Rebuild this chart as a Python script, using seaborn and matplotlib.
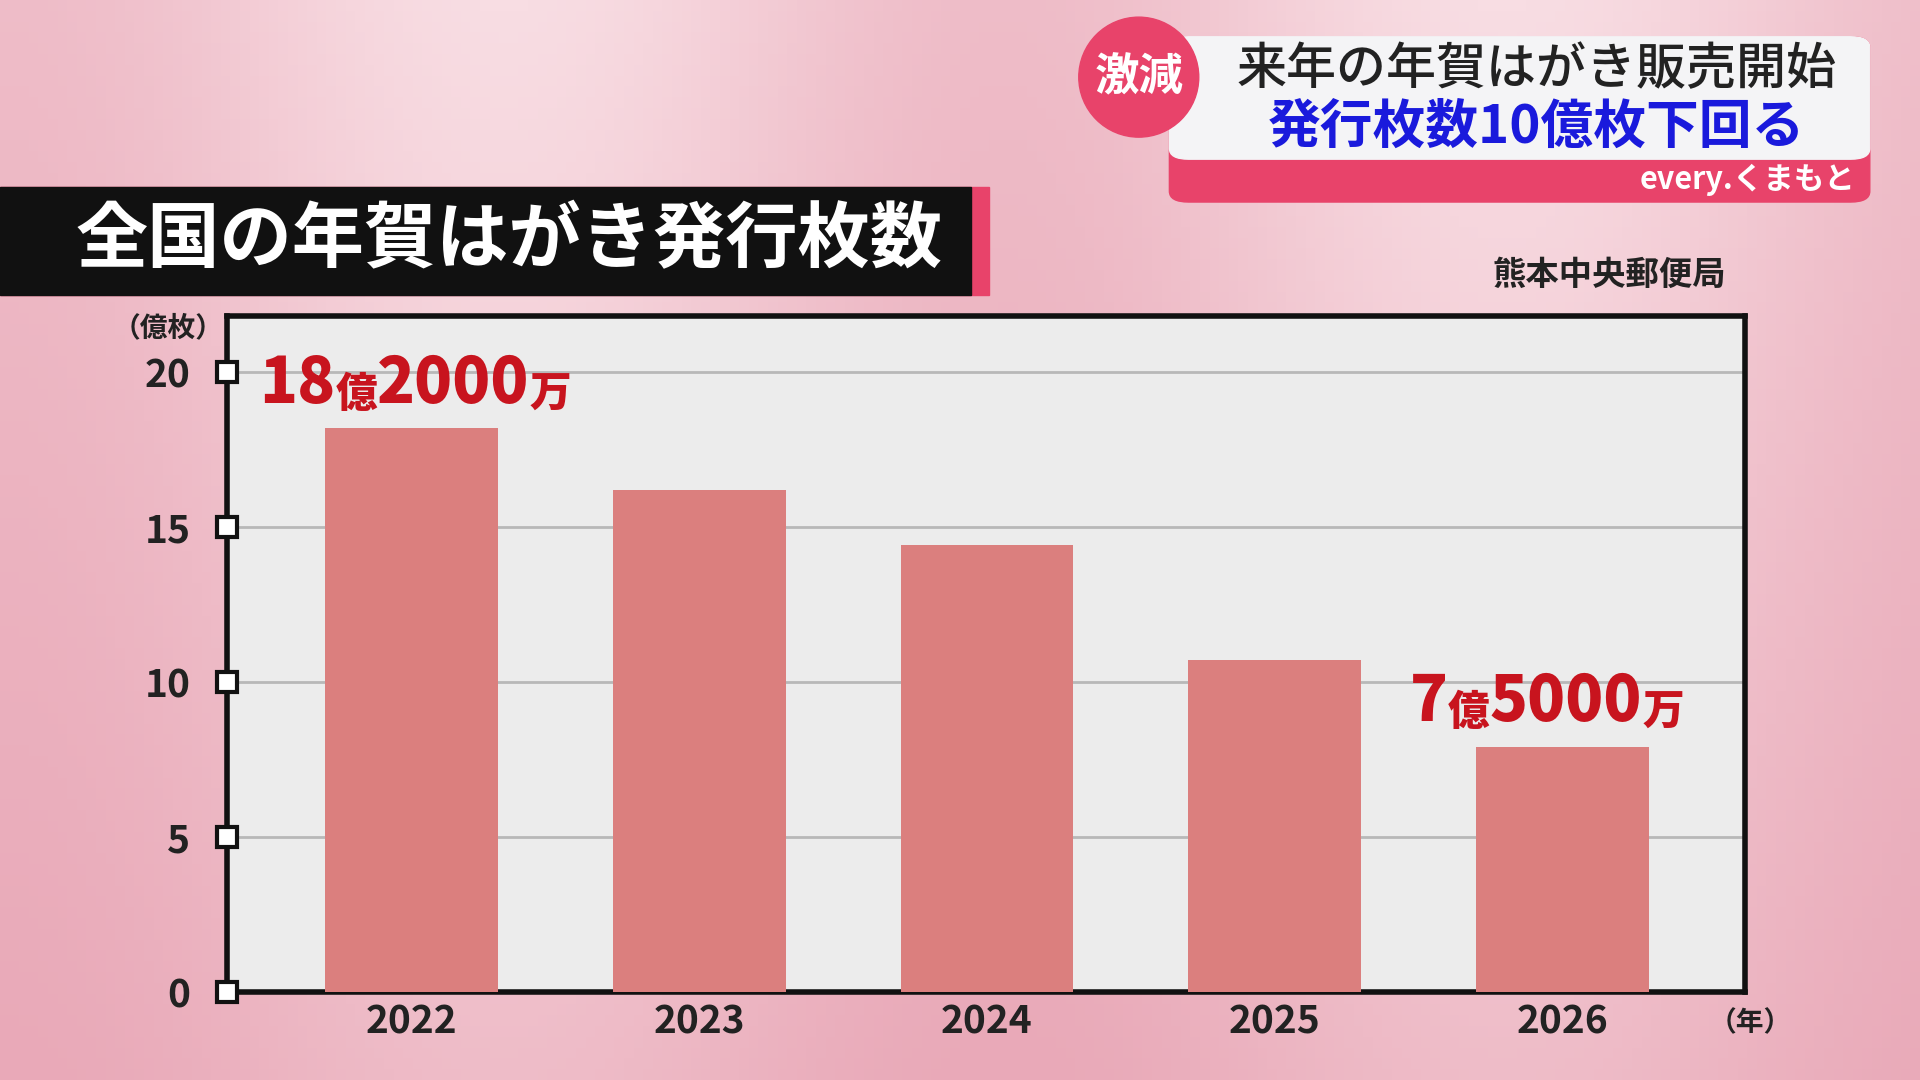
import matplotlib
matplotlib.use("Agg")
import numpy as np
import pandas as pd
import seaborn as sns
from matplotlib import pyplot as plt
from matplotlib.patches import FancyBboxPatch, Rectangle, Ellipse

sns.set_style("ticks")
plt.rcParams['font.family'] = ['Noto Sans CJK JP', 'DejaVu Sans']

years = ['2022', '2023', '2024', '2025', '2026']
issued = [18.2, 16.2, 14.4, 10.7, 7.9]  # 億枚, as drawn
yticks = [0, 5, 10, 15, 20]
first_label = [('18', 45), ('億', 30), ('2000', 45), ('万', 30)]
last_label = [('7', 45), ('億', 30), ('5000', 45), ('万', 30)]

W, H = 1568, 882
fig = plt.figure(figsize=(19.2, 10.8), dpi=100)
fig.patch.set_facecolor('#f2c6d0')

# background gradient
bg = fig.add_axes([0, 0, 1, 1], zorder=-10)
gx = np.linspace(0, 1, 200)
grad = np.outer(np.linspace(1, 0.6, 100), 0.6 + 0.4 * np.sin(gx * 6) ** 2)
bg.imshow(grad, aspect='auto', cmap=matplotlib.colors.LinearSegmentedColormap.from_list(
    'p', ['#e9a9b8', '#f8dde3']), extent=[0, 1, 0, 1])
bg.set_axis_off()

def fx(x): return x / W
def fy(y): return 1 - y / H

ax = fig.add_axes([fx(185), fy(810), fx(1425 - 185), (810 - 258) / H])
df = pd.DataFrame({'year': years, 'v': issued})
sns.barplot(data=df, x='year', y='v', color='#db7f7e', width=0.6, saturation=1,
            linewidth=0, ax=ax, zorder=3)
ax.set_facecolor('#ececec')
ax.set_ylim(0, 21.8)
x0, x1 = -0.643, 4.634
ax.set_xlim(x0, x1)
ax.set_yticks(yticks)
ax.set_yticklabels([str(t) for t in yticks], fontsize=28, fontweight='bold', color='#222')
ax.set_xticklabels(years, fontsize=28, fontweight='bold', color='#222')
ax.yaxis.grid(True, color='#b8b8b8', lw=2, zorder=0)
ax.set_xlabel('')
ax.set_ylabel('')
ax.tick_params(axis='y', length=0, pad=26)
ax.tick_params(axis='x', length=0, pad=8)
for s in ax.spines.values():
    s.set_linewidth(4)
    s.set_color('#111')
for t in yticks:
    ax.plot(x0, t, marker='s', ms=14, mfc='white', mec='#111', mew=3,
            clip_on=False, zorder=5)

red = '#c8141e'

def chain(parts, x, y):
    prev = None
    for txt, size in parts:
        if prev is None:
            prev = ax.text(x, y, txt, fontsize=size, fontweight='black', color=red,
                           va='baseline', zorder=6)
        else:
            prev = ax.annotate(txt, xy=(1, 0), xycoords=prev, fontsize=size,
                               fontweight='black', color=red, va='bottom',
                               ha='left', zorder=6, annotation_clip=False)

chain(first_label, -0.53, 19.0)
chain(last_label, 3.47, 8.75)

fig.text(fx(92), fy(268), '（億枚）', fontsize=20, fontweight='bold', color='#222', va='center')
fig.text(fx(1395), fy(836), '（年）', fontsize=20, fontweight='bold', color='#222', va='center')
fig.text(fx(1410), fy(225), '熊本中央郵便局', fontsize=24, fontweight='bold', color='#222',
         va='center', ha='right')

# title box
fig.patches.append(Rectangle((fx(0), fy(241)), fx(808), (241 - 153) / H,
                             transform=fig.transFigure, color='#e8436a', zorder=1))
fig.patches.append(Rectangle((fx(0), fy(241)), fx(793), (241 - 153) / H,
                             transform=fig.transFigure, color='#111', zorder=2))
fig.text(fx(62), fy(197), '全国の年賀はがき発行枚数', fontsize=52, fontweight='bold',
         color='white', va='center', zorder=3)

# top right banner
fig.patches.append(FancyBboxPatch((fx(955), fy(165)), fx(572), (165 - 30) / H,
                                  boxstyle='round,pad=0,rounding_size=0.01',
                                  transform=fig.transFigure, color='#e8436a', zorder=1))
fig.patches.append(FancyBboxPatch((fx(955), fy(130)), fx(572), (130 - 30) / H,
                                  boxstyle='round,pad=0,rounding_size=0.01',
                                  transform=fig.transFigure, color='#f4f4f6', zorder=2))
fig.patches.append(Ellipse((fx(930), fy(63)), fx(98), 98 / H,
                           transform=fig.transFigure, color='#e8436a', zorder=3))
fig.text(fx(930), fy(63), '激減', fontsize=32, fontweight='bold', color='white',
         ha='center', va='center', zorder=4)
fig.text(fx(1255), fy(57), '来年の年賀はがき販売開始', fontsize=36, fontweight='medium',
         color='#222', ha='center', va='center', zorder=4)
fig.text(fx(1255), fy(104), '発行枚数10億枚下回る', fontsize=38, fontweight='bold',
         color='#1a1adc', ha='center', va='center', zorder=4)
fig.text(fx(1515), fy(147), 'every.くまもと', fontsize=22, fontweight='bold',
         color='white', ha='right', va='center', zorder=4)

fig.savefig('out.png', dpi=100)
